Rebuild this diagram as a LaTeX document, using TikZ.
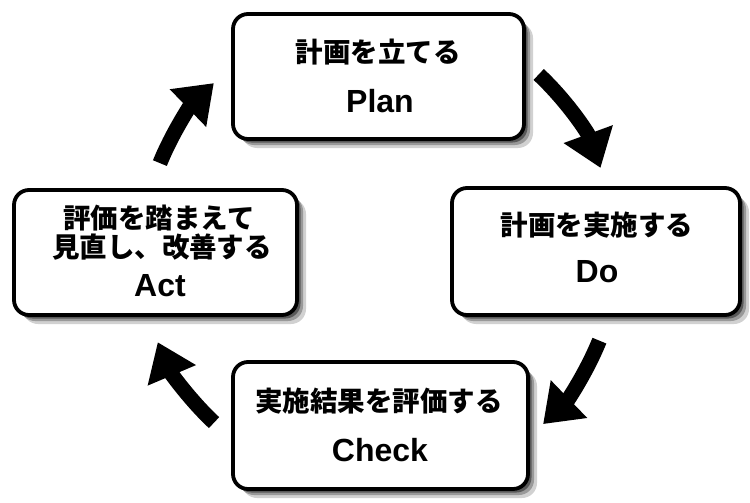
\documentclass[tikz,border=0pt]{standalone}
\usepackage{fontspec}
\setmainfont{Liberation Sans}
\newfontfamily\enfont{Liberation Sans}
\newfontfamily\jpfont{Noto Sans CJK JP}
\usetikzlibrary{arrows.meta,calc,shadows}
\begin{document}
\begin{tikzpicture}[x=1pt,y=-1pt,
  box/.style={draw=black, line width=3.8pt, fill=white, rounded corners=15pt,
    drop shadow={shadow xshift=9pt, shadow yshift=-9pt, fill=black!18, opacity=1},
    drop shadow={shadow xshift=6pt, shadow yshift=-6pt, fill=black!40, opacity=1},
    drop shadow={shadow xshift=3.5pt, shadow yshift=-3.5pt, fill=black!65, opacity=1}},
  jp/.style={font=\jpfont\bfseries\fontsize{27.5}{30}\selectfont, inner sep=0pt},
  en/.style={font=\enfont\bfseries\fontsize{32}{36}\selectfont, inner sep=0pt},
  cyc/.style={line width=15pt, -{Triangle[length=36pt,width=50pt]}}]
\useasboundingbox (0,0) rectangle (750,503);
% boxes
\node[box, minimum width=291pt, minimum height=125pt] (plan) at (378.5,76.5) {};
\node[box, minimum width=288pt, minimum height=127pt] (do) at (596,251.5) {};
\node[box, minimum width=283pt, minimum height=125pt] (act) at (155.5,252.5) {};
\node[box, minimum width=295pt, minimum height=127pt] (check) at (380.5,425.5) {};
% texts
\node[jp] (planjp) at (378,52) {計画を立てる};
\node[en] (planen) at (380,101) {Plan};
\node[jp] (dojp) at (597,225) {計画を実施する};
\node[en] (doen) at (597,272) {Do};
\node[jp] (actjp1) at (159,218) {評価を踏まえて};
\node[jp] (actjp2) at (162,247) {見直し、改善する};
\node[en] (acten) at (160,286) {Act};
\node[jp] (checkjp) at (379,401) {実施結果を評価する};
\node[en] (checken) at (380,450) {Check};
% arrows
\coordinate (c) at (375,250);
\coordinate (a1) at ($(c)+(313:240)$);
\coordinate (a2) at ($(c)+(22:242)$);
\coordinate (a3) at ($(c)+(133:236)$);
\coordinate (a4) at ($(c)+(202:232)$);
\draw[cyc] (a1) arc[start angle=313, end angle=340, radius=240];
\draw[cyc] (a2) arc[start angle=22, end angle=46, radius=242];
\draw[cyc] (a3) arc[start angle=133, end angle=157, radius=236];
\draw[cyc] (a4) arc[start angle=202, end angle=226, radius=232];
\end{tikzpicture}
\end{document}
